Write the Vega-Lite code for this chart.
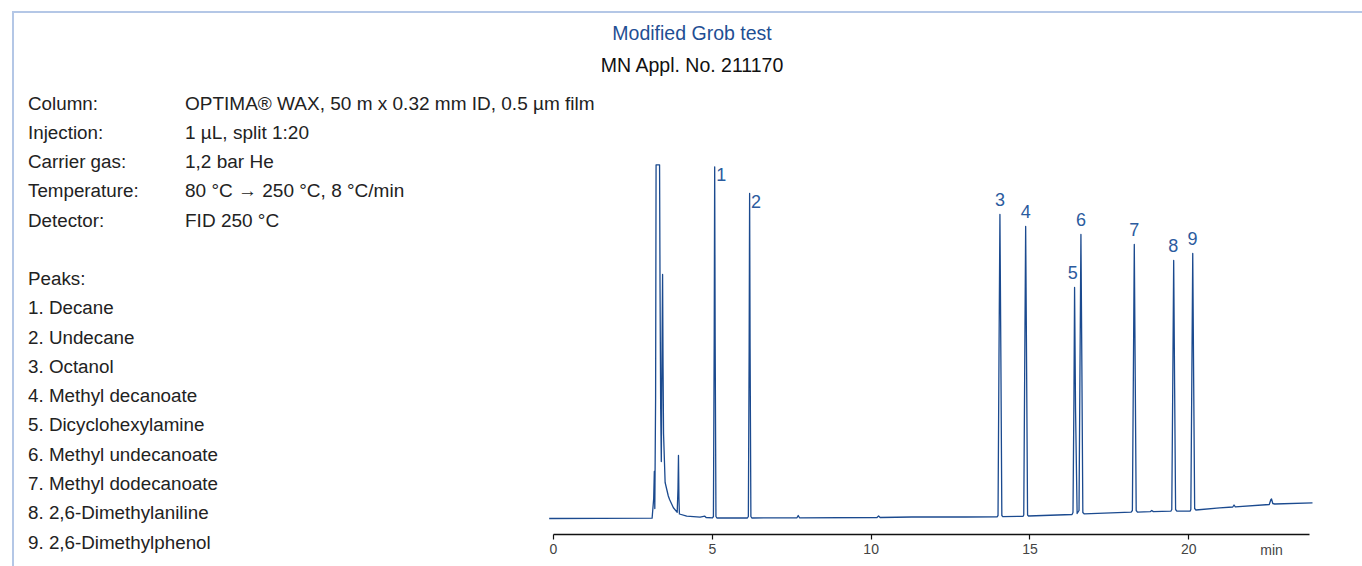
{
  "$schema": "https://vega.github.io/schema/vega-lite/v6.json",
  "width": 1352,
  "height": 557,
  "autosize": {"type": "none"},
  "padding": {"left": 13, "top": 12, "right": -3, "bottom": -3},
  "config": {"view": {"stroke": "#b4c7e6", "strokeWidth": 2}, "font": "Liberation Sans"},
  "title": {
    "text": "Modified Grob test",
    "subtitle": "MN Appl. No. 211170",
    "anchor": "middle",
    "frame": "group",
    "offset": -64,
    "dx": 3,
    "font": "Liberation Sans",
    "fontSize": 19.5,
    "fontWeight": "normal",
    "color": "#1f4f94",
    "subtitleFont": "Liberation Sans",
    "subtitleFontSize": 19.5,
    "subtitleColor": "#111111",
    "subtitlePadding": 12
  },
  "datasets": {
    "trace": [
      {"t": -0.12, "s": 0}, {"t": 3.12, "s": 0.3},
      {"t": 3.17, "s": 20}, {"t": 3.19, "s": 47}, {"t": 3.205, "s": 10},
      {"t": 3.23, "s": 120}, {"t": 3.245, "s": 353.7}, {"t": 3.355, "s": 353.7}, {"t": 3.37, "s": 230}, {"t": 3.39, "s": 110}, {"t": 3.41, "s": 57},
      {"t": 3.43, "s": 160}, {"t": 3.45, "s": 244}, {"t": 3.465, "s": 150}, {"t": 3.48, "s": 85},
      {"t": 3.53, "s": 36}, {"t": 3.63, "s": 22.5}, {"t": 3.67, "s": 19}, {"t": 3.79, "s": 10.7}, {"t": 3.91, "s": 6.3},
      {"t": 3.935, "s": 30}, {"t": 3.95, "s": 63}, {"t": 3.965, "s": 20}, {"t": 3.98, "s": 4.5},
      {"t": 4.21, "s": 2.3}, {"t": 4.63, "s": 1.3}, {"t": 4.78, "s": 2.3}, {"t": 4.82, "s": 1}, {"t": 5.02, "s": 0.7},
      {"t": 5.05, "s": 2}, {"t": 5.075, "s": 180}, {"t": 5.09, "s": 351.7}, {"t": 5.105, "s": 180}, {"t": 5.13, "s": 2}, {"t": 5.16, "s": 0.5},
      {"t": 6.12, "s": 0.5},
      {"t": 6.15, "s": 2}, {"t": 6.175, "s": 170}, {"t": 6.19, "s": 325}, {"t": 6.205, "s": 170}, {"t": 6.23, "s": 2}, {"t": 6.26, "s": 0.5},
      {"t": 7.68, "s": 0.7}, {"t": 7.72, "s": 3}, {"t": 7.76, "s": 0.7},
      {"t": 10.2, "s": 1}, {"t": 10.25, "s": 2.5}, {"t": 10.3, "s": 1}, {"t": 11.3, "s": 1.5},
      {"t": 13.0, "s": 1.5}, {"t": 13.98, "s": 1.7},
      {"t": 14.01, "s": 3}, {"t": 14.04, "s": 160}, {"t": 14.07, "s": 304}, {"t": 14.1, "s": 160}, {"t": 14.13, "s": 3}, {"t": 14.16, "s": 1.8},
      {"t": 14.8, "s": 2.2},
      {"t": 14.82, "s": 3.5}, {"t": 14.85, "s": 150}, {"t": 14.88, "s": 292}, {"t": 14.91, "s": 150}, {"t": 14.94, "s": 3.5}, {"t": 14.97, "s": 2.5},
      {"t": 16.34, "s": 4},
      {"t": 16.37, "s": 6}, {"t": 16.4, "s": 120}, {"t": 16.42, "s": 231}, {"t": 16.45, "s": 110}, {"t": 16.5, "s": 5},
      {"t": 16.56, "s": 8}, {"t": 16.59, "s": 150}, {"t": 16.62, "s": 284}, {"t": 16.65, "s": 150}, {"t": 16.68, "s": 6}, {"t": 16.72, "s": 4.7},
      {"t": 18.2, "s": 6.3},
      {"t": 18.24, "s": 8}, {"t": 18.27, "s": 140}, {"t": 18.3, "s": 274}, {"t": 18.33, "s": 140}, {"t": 18.36, "s": 8}, {"t": 18.4, "s": 6.3},
      {"t": 18.8, "s": 6.8}, {"t": 18.85, "s": 8}, {"t": 18.9, "s": 6.9},
      {"t": 19.45, "s": 7.3},
      {"t": 19.48, "s": 9}, {"t": 19.51, "s": 130}, {"t": 19.54, "s": 258}, {"t": 19.57, "s": 130}, {"t": 19.6, "s": 9}, {"t": 19.64, "s": 7.3},
      {"t": 20.06, "s": 7.5},
      {"t": 20.08, "s": 9}, {"t": 20.11, "s": 135}, {"t": 20.14, "s": 265}, {"t": 20.17, "s": 135}, {"t": 20.2, "s": 10}, {"t": 20.24, "s": 8.5},
      {"t": 20.99, "s": 10.7}, {"t": 21.4, "s": 11.5}, {"t": 21.44, "s": 13.5}, {"t": 21.48, "s": 11.7},
      {"t": 22.55, "s": 14}, {"t": 22.6, "s": 19}, {"t": 22.62, "s": 19.5}, {"t": 22.66, "s": 15}, {"t": 22.72, "s": 14.5},
      {"t": 23.91, "s": 15.7}
    ],
    "peaks": [
      {"peak": 1, "compound": "Decane", "time": 5.09, "height": 351.7},
      {"peak": 2, "compound": "Undecane", "time": 6.19, "height": 325},
      {"peak": 3, "compound": "Octanol", "time": 14.07, "height": 304},
      {"peak": 4, "compound": "Methyl decanoate", "time": 14.88, "height": 292},
      {"peak": 5, "compound": "Dicyclohexylamine", "time": 16.36, "height": 231},
      {"peak": 6, "compound": "Methyl undecanoate", "time": 16.62, "height": 284},
      {"peak": 7, "compound": "Methyl dodecanoate", "time": 18.3, "height": 274},
      {"peak": 8, "compound": "2,6-Dimethylaniline", "time": 19.53, "height": 258},
      {"peak": 9, "compound": "2,6-Dimethylphenol", "time": 20.13, "height": 265}
    ],
    "info": [
      {"row": 0, "label": "Column:", "value": "OPTIMA® WAX, 50 m x 0.32 mm ID, 0.5 µm film"},
      {"row": 1, "label": "Injection:", "value": "1 µL, split 1:20"},
      {"row": 2, "label": "Carrier gas:", "value": "1,2 bar He"},
      {"row": 3, "label": "Temperature:", "value": "80 °C → 250 °C, 8 °C/min"},
      {"row": 4, "label": "Detector:", "value": "FID 250 °C"},
      {"row": 6, "label": "Peaks:"},
      {"row": 7, "label": "1. Decane"},
      {"row": 8, "label": "2. Undecane"},
      {"row": 9, "label": "3. Octanol"},
      {"row": 10, "label": "4. Methyl decanoate"},
      {"row": 11, "label": "5. Dicyclohexylamine"},
      {"row": 12, "label": "6. Methyl undecanoate"},
      {"row": 13, "label": "7. Methyl dodecanoate"},
      {"row": 14, "label": "8. 2,6-Dimethylaniline"},
      {"row": 15, "label": "9. 2,6-Dimethylphenol"}
    ]
  },
  "layer": [
    {
      "layer": [
        {
          "data": {"name": "trace"},
          "mark": {"type": "line", "color": "#1b4a8f", "strokeWidth": 1.3, "clip": false, "strokeJoin": "round"},
          "encoding": {
            "x": {
              "field": "t", "type": "quantitative",
              "scale": {"domain": [0, 23.8], "range": [540, 1296], "nice": false, "zero": false},
              "axis": {
                "values": [0, 5, 10, 15, 20],
                "format": "d",
                "offset": -35,
                "grid": false,
                "title": "min",
                "titleX": 1258,
                "titleY": 16,
                "titleAlign": "center",
                "titleBaseline": "middle",
                "titleFont": "Liberation Sans",
                "titleFontSize": 14,
                "titleFontWeight": "normal",
                "titleColor": "#444444",
                "labelFont": "Liberation Sans",
                "labelFontSize": 14,
                "labelColor": "#444444",
                "labelPadding": 3,
                "labelFlush": false,
                "labelOverlap": false,
                "domainColor": "#111111",
                "domainWidth": 1.3,
                "tickColor": "#111111",
                "tickWidth": 1.2,
                "tickSize": 5
              }
            },
            "y": {
              "field": "s", "type": "quantitative",
              "scale": {"domain": [0, 500], "range": [506.5, 6.5], "nice": false, "zero": false},
              "axis": null
            }
          }
        },
        {
          "data": {"name": "peaks"},
          "transform": [{"filter": "datum.peak <= 2"}],
          "mark": {"type": "text", "align": "left", "baseline": "middle", "dx": 1.5, "dy": 9, "fontSize": 18, "color": "#2b5b9e", "font": "Liberation Sans"},
          "encoding": {
            "x": {"field": "time", "type": "quantitative"},
            "y": {"field": "height", "type": "quantitative"},
            "text": {"field": "peak", "type": "nominal"}
          }
        },
        {
          "data": {"name": "peaks"},
          "transform": [{"filter": "datum.peak >= 3"}],
          "mark": {"type": "text", "align": "center", "baseline": "middle", "dy": -13.5, "fontSize": 18, "color": "#2b5b9e", "font": "Liberation Sans"},
          "encoding": {
            "x": {"field": "time", "type": "quantitative"},
            "y": {"field": "height", "type": "quantitative"},
            "text": {"field": "peak", "type": "nominal"}
          }
        }
      ]
    },
    {
      "data": {"name": "info"},
      "layer": [
        {
          "mark": {"type": "text", "align": "left", "baseline": "middle", "fontSize": 18.8, "color": "#222222", "font": "Liberation Sans"},
          "encoding": {
            "x": {"datum": 0, "type": "quantitative", "scale": {"domain": [0, 1], "range": [15, 172]}, "axis": null},
            "y": {"field": "row", "type": "quantitative", "scale": {"domain": [0, 15], "range": [91.5, 530.5], "nice": false, "zero": false}, "axis": null},
            "text": {"field": "label", "type": "nominal"}
          }
        },
        {
          "transform": [{"filter": "isValid(datum.value)"}],
          "mark": {"type": "text", "align": "left", "baseline": "middle", "fontSize": 19, "color": "#222222", "font": "Liberation Sans"},
          "encoding": {
            "x": {"datum": 1, "type": "quantitative"},
            "y": {"field": "row", "type": "quantitative"},
            "text": {"field": "value", "type": "nominal"}
          }
        }
      ]
    }
  ],
  "resolve": {"scale": {"x": "independent", "y": "independent"}}
}
